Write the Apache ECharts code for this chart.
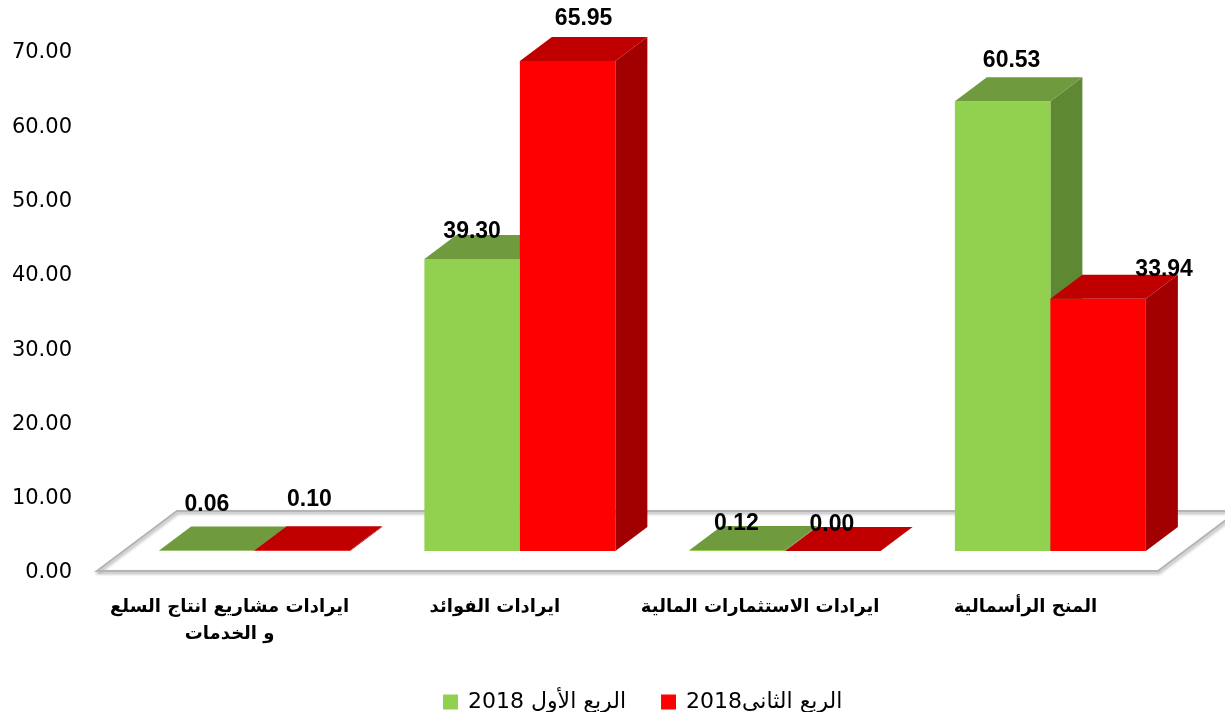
<!DOCTYPE html>
<html>
<head>
<meta charset="utf-8">
<script src="https://cdn.jsdelivr.net/npm/echarts@6/dist/echarts.min.js"></script>
<style>
  html, body { margin: 0; padding: 0; background: #fff; }
  #chart { width: 1225px; height: 712px; }
</style>
</head>
<body>
<div id="chart"></div>
<script>
    // data
    let categories = ['ايرادات مشاريع انتاج السلع\nو الخدمات', 'ايرادات الفوائد', 'ايرادات الاستثمارات المالية', 'المنح الرأسمالية'];
    let seriesNames = ['الربع الأول 2018', 'الربع الثاني2018'];
    let q1Values = [0.06, 39.30, 0.12, 60.53];
    let q2Values = [0.10, 65.95, 0.00, 33.94];

    // face colours: front, top, side
    let faces = [
        ['#92d050', '#6f9b3e', '#5e8832'],
        ['#ff0000', '#c00000', '#a20000']
    ];

    let FX = 25, FY = -22;   // front gap from floor edge
    let DX = 32, DY = -24;   // bar depth
    let FLOOR_DX = 80, FLOOR_DY = -60;
    // label nudges [series][category] -> [dx, dy], like the excel placement
    let labelNudge = [
        [[-16, -3], [-16, 15], [-17, 16], [-7, 2]],
        [[-9, -8], [0, 0], [-17, 16], [50, 13]]
    ];

    let dom = document.getElementById('chart');
    let chart = echarts.init(dom);

    function renderFloor(params, api) {
        let cs = params.coordSys;
        let y0 = api.coord([0, 0])[1] - 2;
        let x0 = cs.x, x1 = cs.x + cs.width;
        return {
            type: 'polygon',
            shape: {
                points: [[x0, y0], [x1, y0], [x1 + FLOOR_DX, y0 + FLOOR_DY], [x0 + FLOOR_DX, y0 + FLOOR_DY]]
            },
            style: {
                fill: 'none',
                stroke: '#b4b4b4',
                lineWidth: 2,
                shadowColor: 'rgba(0,0,0,0.35)',
                shadowBlur: 3,
                shadowOffsetX: 1,
                shadowOffsetY: 2
            },
            silent: true
        };
    }

    function makeRender(s) {
        return function (params, api) {
            let i = api.value(0), v = api.value(1);
            let band = api.size([1, 0])[0];
            let base = api.coord([i, 0]);
            let top = api.coord([i, v]);
            let bw = band * 0.36;
            let x0 = base[0] + FX + (s === 0 ? -bw : 0);
            let by = base[1] + FY;
            let ty = top[1] + FY;
            let c = faces[s];
            let nudge = labelNudge[s][i];
            let lx = x0 + bw / 2 + DX / 2 + nudge[0];
            let ly = ty + DY - 7 + nudge[1];
            return {
                type: 'group',
                children: [
                    {
                        type: 'polygon',
                        shape: { points: [[x0 + bw, ty], [x0 + bw + DX, ty + DY], [x0 + bw + DX, by + DY], [x0 + bw, by]] },
                        style: { fill: c[2] }
                    },
                    {
                        type: 'rect',
                        shape: { x: x0, y: ty, width: bw, height: Math.max(by - ty, 0) },
                        style: { fill: c[0] }
                    },
                    {
                        type: 'polygon',
                        shape: { points: [[x0, ty], [x0 + bw, ty], [x0 + bw + DX, ty + DY], [x0 + DX, ty + DY]] },
                        style: { fill: c[1] }
                    },
                    {
                        type: 'text',
                        z2: 10,
                        style: {
                            x: lx, y: ly,
                            text: v.toFixed(2),
                            fill: '#000',
                            font: 'bold 23px "Liberation Sans", Arial, sans-serif',
                            align: 'center',
                            verticalAlign: 'bottom'
                        }
                    }
                ]
            };
        };
    }

    let option = {
        backgroundColor: '#fff',
        animation: false,
        grid: {
            left: 97,
            right: 67,
            top: 53,
            bottom: 139
        },
        legend: {
            data: seriesNames,
            left: 438,
            top: 686,
            itemGap: 35,
            itemWidth: 15,
            itemHeight: 15,
            icon: 'rect',
            textStyle: {
                fontSize: 22,
                color: '#000',
                padding: [0, 0, 0, 5],
                fontFamily: '"DejaVu Sans", sans-serif'
            }
        },
        xAxis: {
            type: 'category',
            data: categories,
            axisLine: { show: false },
            axisTick: { show: false },
            axisLabel: {
                interval: 0,
                margin: 21,
                fontSize: 18,
                fontWeight: 'bold',
                color: '#000',
                lineHeight: 27,
                fontFamily: '"DejaVu Sans", sans-serif'
            }
        },
        yAxis: {
            type: 'value',
            min: 0,
            max: 70,
            interval: 10,
            axisLine: { show: false },
            axisTick: { show: false },
            splitLine: { show: false },
            axisLabel: {
                margin: 25,
                fontSize: 21,
                color: '#000',
                fontFamily: '"DejaVu Sans", sans-serif',
                formatter: function (v) { return v.toFixed(2); }
            }
        },
        series: [
            {
                type: 'custom',
                name: 'floor',
                renderItem: renderFloor,
                data: [[0, 0]],
                z: 1,
                silent: true
            },
            {
                type: 'custom',
                name: seriesNames[0],
                renderItem: makeRender(0),
                itemStyle: { color: faces[0][0] },
                encode: { x: 0, y: 1 },
                data: q1Values.map(function (v, i) { return [i, v]; }),
                z: 2
            },
            {
                type: 'custom',
                name: seriesNames[1],
                renderItem: makeRender(1),
                itemStyle: { color: faces[1][0] },
                encode: { x: 0, y: 1 },
                data: q2Values.map(function (v, i) { return [i, v]; }),
                z: 3
            }
        ]
    };
    chart.setOption(option);
    window.addEventListener('resize', function () {
        chart.resize();
    });
</script>
</body>
</html>
